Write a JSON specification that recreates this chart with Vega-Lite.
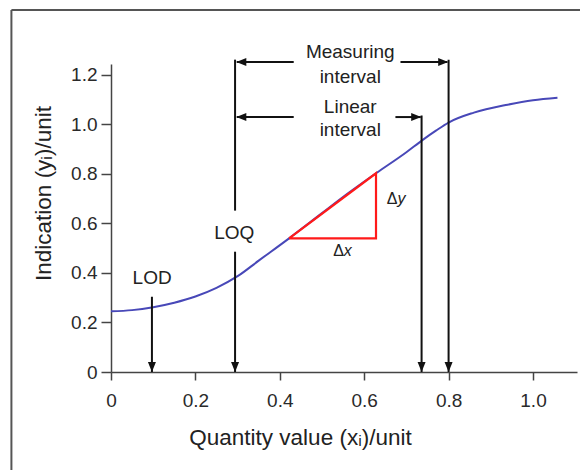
{
  "$schema": "https://vega.github.io/schema/vega-lite/v6.json",
  "width": 466,
  "height": 308,
  "autosize": {"type": "none"},
  "padding": {"left": 111, "top": 64, "right": 3, "bottom": 98},
  "background": "white",
  "config": {"view": {"stroke": null}, "font": "Liberation Sans"},
  "datasets": {
    "curve": [
      {"x": 0.0, "y": 0.245}, {"x": 0.05, "y": 0.25}, {"x": 0.1, "y": 0.262},
      {"x": 0.15, "y": 0.28}, {"x": 0.2, "y": 0.305}, {"x": 0.25, "y": 0.34},
      {"x": 0.3, "y": 0.387}, {"x": 0.35, "y": 0.45}, {"x": 0.422, "y": 0.54},
      {"x": 0.5, "y": 0.642}, {"x": 0.56, "y": 0.72}, {"x": 0.628, "y": 0.803},
      {"x": 0.7, "y": 0.888}, {"x": 0.738, "y": 0.937}, {"x": 0.77, "y": 0.975},
      {"x": 0.8, "y": 1.008}, {"x": 0.86, "y": 1.048}, {"x": 0.94, "y": 1.08},
      {"x": 1.0, "y": 1.098}, {"x": 1.058, "y": 1.108}
    ],
    "tri": [
      {"x": 0.422, "y": 0.54, "o": 1}, {"x": 0.628, "y": 0.803, "o": 2},
      {"x": 0.628, "y": 0.54, "o": 3}, {"x": 0.422, "y": 0.54, "o": 4}
    ],
    "vlines": [
      {"x": 0.097, "y": 0.304, "y2": 0},
      {"x": 0.294, "y": 0.486, "y2": 0},
      {"x": 0.294, "y": 1.262, "y2": 0.652},
      {"x": 0.736, "y": 1.036, "y2": 0},
      {"x": 0.8, "y": 1.262, "y2": 0}
    ],
    "hlines": [
      {"x": 0.298, "x2": 0.433, "y": 1.252},
      {"x": 0.686, "x2": 0.797, "y": 1.252},
      {"x": 0.298, "x2": 0.433, "y": 1.03},
      {"x": 0.674, "x2": 0.734, "y": 1.03}
    ],
    "down": [
      {"x": 0.097, "y": 0}, {"x": 0.294, "y": 0}, {"x": 0.736, "y": 0}, {"x": 0.8, "y": 0}
    ],
    "left": [{"x": 0.297, "y": 1.252}, {"x": 0.297, "y": 1.03}],
    "right": [{"x": 0.799, "y": 1.252}, {"x": 0.735, "y": 1.03}],
    "labels": [
      {"x": 0.567, "y": 1.294, "t": "Measuring"},
      {"x": 0.567, "y": 1.193, "t": "interval"},
      {"x": 0.567, "y": 1.072, "t": "Linear"},
      {"x": 0.567, "y": 0.978, "t": "interval"},
      {"x": 0.292, "y": 0.56, "t": "LOQ"},
      {"x": 0.0975, "y": 0.378, "t": "LOD"}
    ],
    "deltas": [
      {"x": 0.674, "y": 0.698, "d": "Δ", "v": "y"},
      {"x": 0.547, "y": 0.49, "d": "Δ", "v": "x"}
    ],
    "frameV": [{"x": -0.236, "y": -0.5, "y2": 1.463}],
    "frameH": [{"x": -0.236, "x2": 1.3, "y": 1.463}]
  },
  "encoding": {
    "x": {
      "field": "x", "type": "quantitative",
      "scale": {"domain": [0, 1.1043], "nice": false, "zero": false},
      "axis": {
        "values": [0, 0.2, 0.4, 0.6, 0.8, 1.0],
        "labelExpr": "datum.value == 0 ? '0' : format(datum.value, '.1f')",
        "labelFontSize": 19, "labelColor": "#2a2a2a", "labelPadding": 11,
        "labelFlush": false, "labelOverlap": false,
        "tickSize": 8, "tickColor": "#444", "tickWidth": 1.5,
        "domainColor": "#444", "domainWidth": 1.5, "grid": false,
        "title": "Quantity value (xᵢ)/unit", "titleFontSize": 22.5, "titleFontWeight": "normal",
        "titleColor": "#222", "titleX": 189, "titleY": 65, "titleBaseline": "middle", "titleAlign": "center"
      }
    },
    "y": {
      "field": "y", "type": "quantitative",
      "scale": {"domain": [0, 1.2444], "nice": false, "zero": false},
      "axis": {
        "values": [0, 0.2, 0.4, 0.6, 0.8, 1.0, 1.2],
        "labelExpr": "datum.value == 0 ? '0' : format(datum.value, '.1f')",
        "labelFontSize": 19, "labelColor": "#2a2a2a", "labelPadding": 4,
        "labelFlush": false, "labelOverlap": false,
        "tickSize": 10, "tickColor": "#444", "tickWidth": 1.5,
        "domainColor": "#444", "domainWidth": 1.5, "grid": false,
        "title": "Indication (yᵢ)/unit", "titleFontSize": 22.5, "titleFontWeight": "normal",
        "titleColor": "#222", "titleX": -68, "titleY": 129, "titleAngle": 270,
        "titleBaseline": "middle", "titleAlign": "center"
      }
    }
  },
  "layer": [
    {"data": {"name": "frameV"}, "mark": {"type": "rule", "color": "#555", "strokeWidth": 2}, "encoding": {"y2": {"field": "y2"}}},
    {"data": {"name": "frameH"}, "mark": {"type": "rule", "color": "#555", "strokeWidth": 2}, "encoding": {"x2": {"field": "x2"}}},
    {"data": {"name": "curve"}, "mark": {"type": "line", "color": "#4848b8", "strokeWidth": 2, "interpolate": "monotone"}, "encoding": {}},
    {"data": {"name": "tri"}, "mark": {"type": "line", "color": "#ff1a1a", "strokeWidth": 2.2}, "encoding": {"order": {"field": "o"}}},
    {"data": {"name": "vlines"}, "mark": {"type": "rule", "color": "#111", "strokeWidth": 2}, "encoding": {"y2": {"field": "y2"}}},
    {"data": {"name": "hlines"}, "mark": {"type": "rule", "color": "#111", "strokeWidth": 2}, "encoding": {"x2": {"field": "x2"}}},
    {"data": {"name": "down"}, "mark": {"type": "point", "shape": "M0,0L-0.4,-1L0.4,-1Z", "size": 400, "filled": true, "color": "#111", "opacity": 1, "strokeWidth": 0}},
    {"data": {"name": "left"}, "mark": {"type": "point", "shape": "M0,0L1,-0.4L1,0.4Z", "size": 400, "filled": true, "color": "#111", "opacity": 1, "strokeWidth": 0}},
    {"data": {"name": "right"}, "mark": {"type": "point", "shape": "M0,0L-1,-0.4L-1,0.4Z", "size": 400, "filled": true, "color": "#111", "opacity": 1, "strokeWidth": 0}},
    {"data": {"name": "labels"}, "mark": {"type": "text", "fontSize": 19, "color": "#222", "align": "center", "baseline": "middle"}, "encoding": {"text": {"field": "t"}}},
    {"data": {"name": "deltas"}, "mark": {"type": "text", "fontSize": 16, "color": "#222", "align": "right", "baseline": "middle", "dx": 2}, "encoding": {"text": {"field": "d"}}},
    {"data": {"name": "deltas"}, "mark": {"type": "text", "fontSize": 16, "fontStyle": "italic", "color": "#222", "align": "left", "baseline": "middle", "dx": 2}, "encoding": {"text": {"field": "v"}}}
  ]
}
